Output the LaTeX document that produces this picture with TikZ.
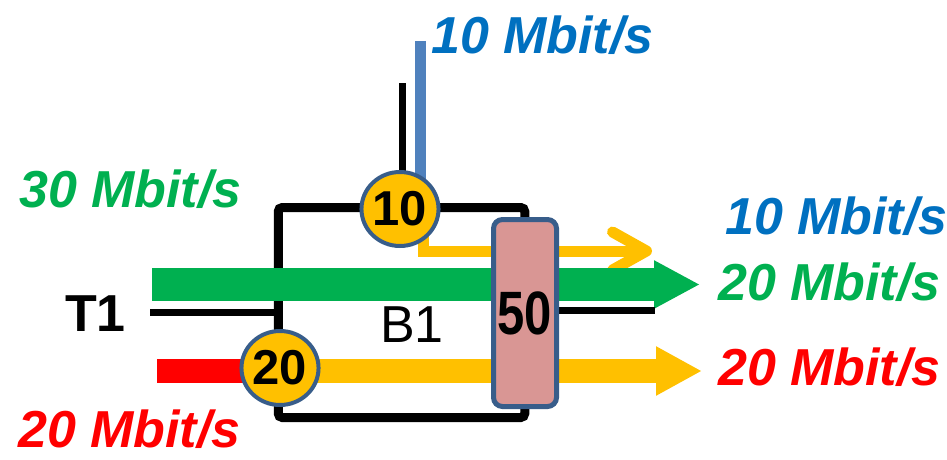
\documentclass[tikz,border=0pt]{standalone}
\usepackage{fontspec}
\setmainfont{Liberation Sans}
\usetikzlibrary{arrows.meta,shapes.geometric}
\pgfdeclarelayer{frame}
\pgfdeclarelayer{flows}
\pgfsetlayers{frame,flows,main}
\definecolor{flowgreen}{HTML}{00B050}
\definecolor{flowblue}{HTML}{0070C0}
\definecolor{linkblue}{HTML}{4F81BD}
\definecolor{flowyellow}{HTML}{FFC000}
\definecolor{shaperim}{HTML}{385D8A}
\definecolor{shapepink}{HTML}{D99694}
\tikzset{
  rate/.style={font=\fontsize{52}{60}\selectfont\bfseries\itshape, inner sep=0pt, anchor=base west},
  tag/.style={font=\fontsize{52}{60}\selectfont, inner sep=0pt, anchor=base west},
  meter/.style={ellipse, draw=shaperim, line width=4pt, fill=flowyellow, minimum width=65pt,
    minimum height=74pt, inner sep=0pt, font=\fontsize{49}{54}\selectfont\bfseries},
  shaper/.style={rectangle, rounded corners=9pt, draw=shaperim, line width=5pt, fill=shapepink,
    minimum width=63pt, minimum height=187pt, inner sep=0pt, font=\fontsize{49}{54}\selectfont\bfseries},
  band/.style={line width=#1pt}
}
\begin{document}
\begin{tikzpicture}[x=1pt,y=-1pt]
    \useasboundingbox (0,0) rectangle (947,460);
    % meters and shaper
    \node[meter] (m10) at (400,209) {10};
    \node[meter] (m20) at (280,368) {20};
    \node[shaper] (s50) at (525,313) {\scalebox{1}[1.25]{50}};
    %
    \begin{pgfonlayer}{frame}
    \node[draw, line width=9pt, rounded corners=4pt, minimum width=246.5pt, minimum height=210pt,
      outer sep=0pt] (box) at (401.5,312.5) {};
    \end{pgfonlayer}
    %
    \coordinate (upblue) at (420.5,41);
    \coordinate (upblack) at (402.5,83);
    \coordinate (ysmall) at (652,251);
    \coordinate (gin) at (152,284.5);
    \coordinate (gout) at (700,284.5);
    \coordinate (tin) at (150,312.5);
    \coordinate (bout) at (655,310);
    \coordinate (redin) at (157,371);
    \coordinate (yout) at (702,371);
    %
    \begin{pgfonlayer}{flows}
    \draw[linkblue, band=11] (upblue) -- (upblue |- m10);
    \draw[band=7] (upblack) -- (upblack |- m10);
    \draw[flowyellow, band=11, -{Straight Barb[length=34pt, width=38pt, round]}]
      ([xshift=23pt]m10.center) |- (ysmall);
    %%
    \draw[flowgreen, band=33, -{Triangle[length=46pt, width=45pt]}] (gin) -- (gout);
    \draw[band=7] (tin) -- (box.west);
    \draw[band=7] (bout -| s50) -- (bout);
    %
    \draw[red, band=24] (redin) -- (redin -| m20);
    \draw[flowyellow, band=24, -{Triangle[length=46pt, width=46pt]}] (yout -| m20) -- (yout);
    \end{pgfonlayer}
    %
    \node[rate, text=flowblue] (r10up) at (431,53) {10 Mbit/s};
    \node[rate, text=flowgreen] (r30in) at (19,207) {30 Mbit/s};
    \node[rate, text=red] (r20in) at (18,447) {20 Mbit/s};
    \node[rate, text=flowblue] (r10out) at (725,234) {10 Mbit/s};
    \node[rate, text=flowgreen] (r20out) at (718,300) {20 Mbit/s};
    \node[rate, text=red] (r20fix) at (718,385) {20 Mbit/s};
    \node[tag, font=\fontsize{52}{60}\selectfont\bfseries] (t1) at (65,331) {T1};
    \node[tag] (b1) at (380,342) {B1};
\end{tikzpicture}
\end{document}
